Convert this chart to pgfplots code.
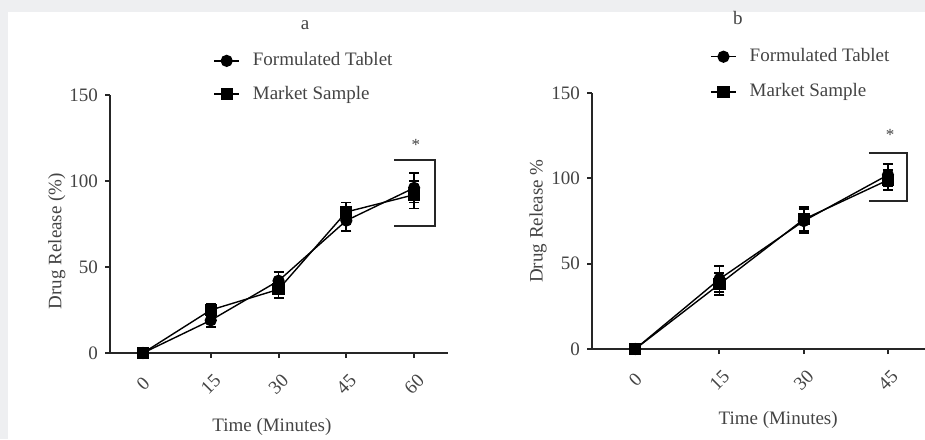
\documentclass[border=0pt]{standalone}
\usepackage{pgfplots}
\pgfplotsset{compat=1.18}
\usepackage{pgfplotstable}
\usepackage{fontspec}
\setmainfont{Liberation Serif}
\definecolor{bggray}{RGB}{238,239,241}
\definecolor{txtgray}{RGB}{68,68,68}

\pgfplotstableread{
x y ey
0 0 0
15 19 3.7
30 42 5
45 77 6
60 96 8.5
}\aForm
\pgfplotstableread{
x y ey
0 0 0
15 25 3.5
30 37 5
45 82 5.5
60 92 8
}\aMark
\pgfplotstableread{
x y ey
0 0 0
15 41 7.5
30 75 7
45 102 6.5
}\bForm
\pgfplotstableread{
x y ey
0 0 0
15 38 6.5
30 76 7
45 99 6
}\bMark

\pgfplotsset{
  myplot/.style={black, line width=0.7pt, mark size=2.7pt,
      mark options={solid, fill=black},
      error bars/y dir=both, error bars/y explicit,
      error bars/error bar style={line width=0.9pt},
      error bars/error mark options={rotate=90, mark size=2.5pt, line width=0.9pt}},
  drugstyle/.style={
    scale only axis,
    clip=false,
    axis x line*=bottom,
    axis y line*=left,
    axis line style={line width=1pt, black!85},
    tick style={line width=1pt, black!85},
    major tick length=2.5pt,
    tick align=outside,
    ymin=0, ymax=150,
    ytick={0,50,100,150},
    font=\fontsize{9.5}{11}\selectfont,
    tick label style={text=txtgray, font=\fontsize{9.5}{11}\selectfont},
    label style={text=txtgray, font=\fontsize{9.5}{11}\selectfont},
    xticklabel style={rotate=45, anchor=center},
    xticklabel shift=13pt,
    /pgf/number format/assume math mode=true,
    legend style={draw=none, fill=none, inner sep=0pt, row sep=8.5pt,
      font=\fontsize{9.5}{11}\selectfont, text=txtgray,
      nodes={inner sep=0pt, text=txtgray}},
    legend cell align=left,
    legend image code/.code={%
      \draw[mark repeat=2,mark phase=2,##1] plot coordinates {(0pt,0pt) (6.25pt,0pt) (12.5pt,0pt)};},
  }
}

\begin{document}
\begin{tikzpicture}
\useasboundingbox (0,0) rectangle (462.5pt,219.5pt);
\fill[bggray] (0,0) rectangle (462.5pt,219.5pt);
\fill[white] (4pt,0) rectangle (462.5pt,213.5pt);

\begin{axis}[drugstyle,
  at={(55pt,43pt)}, anchor=south west,
  width=169pt, height=129pt,
  xmin=-7.3, xmax=67.5,
  xtick={0,15,30,45,60},
  ylabel={Drug Release (\%)},
  ylabel style={at={(axis description cs:-0.157,0.434)}, anchor=center, rotate=0},
  xlabel={Time (Minutes)},
  xlabel style={at={(axis description cs:0.479,-0.287)}, anchor=center},
  legend style={at={(axis description cs:0.305,1.068)}, anchor=west},
]
\addplot[myplot, mark=*] table[x=x, y=y, y error=ey] {\aForm};
\addlegendentry{\hspace{6.5pt}Formulated Tablet}
\addplot[myplot, mark=square*] table[x=x, y=y, y error=ey] {\aMark};
\addlegendentry{\hspace{6.5pt}Market Sample}
\draw[line width=1pt, black!85] (axis cs:55.6,112) -- (axis cs:64.6,112) -- (axis cs:64.6,74) -- (axis cs:55.6,74);
\node[font=\fontsize{8.5}{9}\selectfont, text=txtgray] at (axis cs:60.4,121) {*};
\node[font=\fontsize{9.5}{11}\selectfont, text=txtgray] at (axis description cs:0.577,1.271) {a};
\end{axis}

\begin{axis}[drugstyle,
  at={(296pt,45pt)}, anchor=south west,
  width=166.5pt, height=128pt,
  xmin=-7.7, xmax=51.6,
  xtick={0,15,30,45},
  ylabel={Drug Release \%},
  ylabel style={at={(axis description cs:-0.162,0.5)}, anchor=center, rotate=0},
  xlabel={Time (Minutes)},
  xlabel style={at={(axis description cs:0.559,-0.277)}, anchor=center},
  legend style={at={(axis description cs:0.354,1.073)}, anchor=west, row sep=9.5pt},
]
\addplot[myplot, mark=*] table[x=x, y=y, y error=ey] {\bForm};
\addlegendentry{\hspace{6.5pt}Formulated Tablet}
\addplot[myplot, mark=square*] table[x=x, y=y, y error=ey] {\bMark};
\addlegendentry{\hspace{6.5pt}Market Sample}
\draw[line width=1pt, black!85] (axis cs:41.6,114.6) -- (axis cs:48.4,114.6) -- (axis cs:48.4,86.9) -- (axis cs:41.6,86.9);
\node[font=\fontsize{8.5}{9}\selectfont, text=txtgray] at (axis cs:45.4,125.5) {*};
\node[font=\fontsize{9.5}{11}\selectfont, text=txtgray] at (axis description cs:0.438,1.293) {b};
\end{axis}
\end{tikzpicture}
\end{document}
